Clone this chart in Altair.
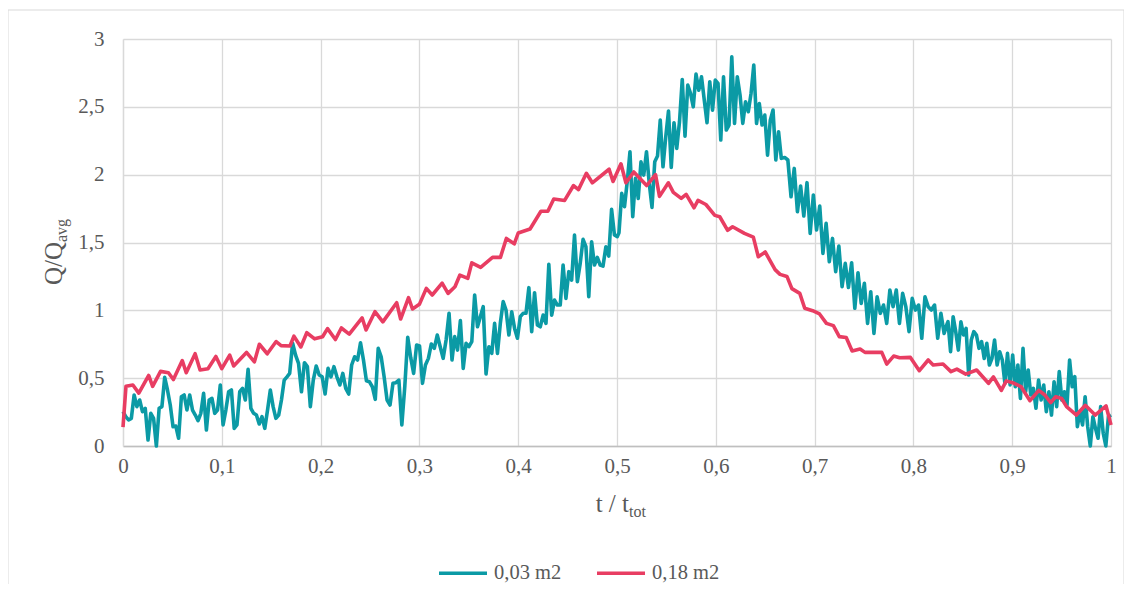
import altair as alt
import pandas as pd

# ---------------- data ----------------
series_names = ["0,03 m2", "0,18 m2"]
series_colors = ["#0B9AA5", "#E83D62"]

red_t = [0, 0.003, 0.01, 0.016, 0.026, 0.03, 0.038, 0.046, 0.051, 0.06,
         0.064, 0.073, 0.078, 0.086, 0.094, 0.1, 0.108, 0.112, 0.125, 0.133,
         0.138, 0.146, 0.155, 0.16, 0.169, 0.173, 0.18, 0.186, 0.194, 0.202,
         0.207, 0.215, 0.221, 0.229, 0.242, 0.246, 0.255, 0.263, 0.277, 0.281,
         0.289, 0.293, 0.30, 0.307, 0.313, 0.323, 0.329, 0.336, 0.341, 0.349,
         0.353, 0.362, 0.374, 0.382, 0.388, 0.396, 0.40, 0.412, 0.423, 0.43,
         0.436, 0.447, 0.456, 0.461, 0.469, 0.475, 0.492, 0.496, 0.504, 0.509,
         0.517, 0.53, 0.539, 0.543, 0.552, 0.557, 0.565, 0.57, 0.578, 0.582,
         0.59, 0.599, 0.604, 0.612, 0.617, 0.629, 0.638, 0.643, 0.65, 0.66,
         0.665, 0.672, 0.677, 0.685, 0.69, 0.698, 0.705, 0.712, 0.719, 0.725,
         0.732, 0.738, 0.746, 0.751, 0.768, 0.773, 0.78, 0.786, 0.797, 0.806,
         0.815, 0.82, 0.83, 0.838, 0.844, 0.853, 0.864, 0.876, 0.881, 0.889,
         0.894, 0.902, 0.909, 0.918, 0.927, 0.933, 0.939, 0.944, 0.95, 0.955,
         0.965, 0.974, 0.984, 0.995, 1.0]
red_v = [0.14, 0.44, 0.45, 0.39, 0.52, 0.44, 0.55, 0.54, 0.49, 0.63,
         0.54, 0.68, 0.56, 0.57, 0.66, 0.57, 0.67, 0.59, 0.69, 0.62,
         0.75, 0.68, 0.77, 0.74, 0.737, 0.81, 0.73, 0.835, 0.79, 0.805,
         0.865, 0.785, 0.87, 0.825, 0.945, 0.855, 0.99, 0.915, 1.056, 0.936,
         1.093, 1.01, 1.044, 1.162, 1.113, 1.2, 1.125, 1.174, 1.26, 1.236,
         1.35, 1.317, 1.39, 1.39, 1.53, 1.49, 1.57, 1.60, 1.73, 1.73,
         1.82, 1.81, 1.92, 1.89, 2.01, 1.94, 2.04, 1.95, 2.08, 1.94,
         2.02, 1.92, 2.0, 1.84, 1.94, 1.87, 1.825, 1.855, 1.756, 1.81,
         1.78, 1.70, 1.69, 1.59, 1.616, 1.567, 1.54, 1.395, 1.43, 1.30,
         1.265, 1.25, 1.16, 1.125, 1.015, 0.997, 0.973, 0.904, 0.887, 0.806,
         0.80, 0.70, 0.715, 0.69, 0.69, 0.604, 0.663, 0.65, 0.653, 0.555,
         0.634, 0.597, 0.604, 0.548, 0.567, 0.53, 0.56, 0.462, 0.51, 0.41,
         0.48, 0.462, 0.437, 0.334, 0.41, 0.376, 0.32, 0.363, 0.35, 0.29,
         0.228, 0.30, 0.228, 0.295, 0.155]

# teal series, read in six consecutive stretches of t (evenly sampled inside each)
teal_ranges = [(0.0, 0.166), (0.1687, 0.333), (0.3357, 0.5003),
               (0.502, 0.6663), (0.6697, 0.8343), (0.835, 1.0)]
teal_1 = [0.253, 0.216, 0.192, 0.204, 0.376, 0.29, 0.339, 0.253, 0.278, 0.044,
          0.241, 0.204, 0.0, 0.278, 0.29, 0.506, 0.413, 0.302, 0.142, 0.147,
          0.057, 0.363, 0.376, 0.265, 0.376, 0.265, 0.228, 0.187, 0.241, 0.388,
          0.118, 0.339, 0.351, 0.241, 0.265, 0.45, 0.155, 0.265, 0.40, 0.413,
          0.13, 0.155, 0.40, 0.425, 0.339, 0.565, 0.278, 0.241, 0.228, 0.162,
          0.216, 0.13, 0.265, 0.413, 0.29, 0.204, 0.228, 0.339, 0.486, 0.51]
teal_2 = [0.535, 0.757, 0.67, 0.609, 0.40, 0.614, 0.585, 0.29, 0.486, 0.59,
          0.523, 0.51, 0.383, 0.572, 0.51, 0.585, 0.51, 0.45, 0.535, 0.425,
          0.383, 0.597, 0.658, 0.634, 0.761, 0.634, 0.481, 0.474, 0.437, 0.344,
          0.72, 0.658, 0.51, 0.339, 0.302, 0.462, 0.467, 0.486, 0.155, 0.437,
          0.801, 0.653, 0.535, 0.744, 0.737, 0.462, 0.597, 0.646, 0.752, 0.72,
          0.818, 0.732, 0.646, 0.781, 0.978, 0.634]
teal_3 = [0.806, 0.707, 0.924, 0.572, 0.757, 0.732, 0.769, 1.113, 0.879, 0.953,
          1.027, 0.531, 0.732, 0.683, 0.904, 0.683, 0.904, 1.064, 1.002, 0.818,
          0.99, 0.867, 0.794, 0.953, 0.978, 0.978, 1.167, 0.843, 1.13, 0.892,
          0.879, 0.965, 0.904, 1.339, 0.965, 1.076, 1.039, 1.039, 1.334, 1.088,
          1.285, 1.223, 1.555, 1.211, 1.346, 1.523, 1.469, 1.100, 1.506, 1.334,
          1.39, 1.334, 1.326, 1.469, 1.40, 1.744, 1.555, 1.543]
teal_4 = [1.572, 1.862, 1.764, 1.948, 2.169, 1.690, 1.973, 1.825, 2.095, 1.997,
          2.169, 1.936, 1.759, 2.095, 2.137, 2.402, 2.058, 2.279, 2.469, 2.054,
          2.383, 2.194, 2.390, 2.702, 2.284, 2.660, 2.599, 2.500, 2.741, 2.623,
          2.721, 2.550, 2.383, 2.685, 2.476, 2.697, 2.673, 2.255, 2.721, 2.329,
          2.366, 2.869, 2.378, 2.721, 2.587, 2.378, 2.537, 2.464, 2.599, 2.808,
          2.378, 2.525, 2.366, 2.439, 2.144, 2.402, 2.476, 2.108, 2.316, 2.120]
teal_5 = [2.127, 2.108, 1.837, 2.046, 1.727, 1.916, 1.695, 1.941, 1.567, 1.850,
          1.592, 1.769, 1.420, 1.641, 1.358, 1.530, 1.285, 1.474, 1.174, 1.346,
          1.169, 1.351, 1.015, 1.277, 1.051, 1.199, 0.904, 1.137, 0.830, 1.100,
          0.978, 1.039, 0.904, 1.150, 1.027, 1.150, 0.904, 1.125, 1.027, 0.843,
          1.088, 1.002, 1.039, 0.794, 1.100, 1.027, 1.002, 1.039, 0.794, 0.978,
          0.830, 0.904]
teal_6 = [0.916, 0.695, 0.953, 0.843, 0.707, 0.916, 0.818, 0.867, 0.523, 0.781,
          0.843, 0.818, 0.72, 0.769, 0.646, 0.757, 0.597, 0.646, 0.781, 0.597,
          0.695, 0.634, 0.462, 0.683, 0.45, 0.671, 0.437, 0.597, 0.351, 0.72,
          0.40, 0.56, 0.376, 0.425, 0.278, 0.486, 0.339, 0.45, 0.253, 0.40,
          0.228, 0.474, 0.29, 0.548, 0.339, 0.40, 0.302, 0.634, 0.437, 0.511,
          0.142, 0.253, 0.155, 0.363, 0.142, 0.0, 0.216, 0.13, 0.057, 0.29,
          0.094, 0.0, 0.216, 0.228]

x_ticks = [0, 0.1, 0.2, 0.3, 0.4, 0.5, 0.6, 0.7, 0.8, 0.9, 1]
y_ticks = [0, 0.5, 1, 1.5, 2, 2.5, 3]

# ---------------- table ----------------
rows = []
for seg, (a, b) in zip([teal_1, teal_2, teal_3, teal_4, teal_5, teal_6], teal_ranges):
    n = len(seg)
    for i, v in enumerate(seg):
        rows.append({"t": a + (b - a) * i / (n - 1), "v": v, "s": series_names[0]})
for t, v in zip(red_t, red_v):
    rows.append({"t": t, "v": v, "s": series_names[1]})
df = pd.DataFrame(rows)

FONT = "Liberation Serif"
GREY = "#595959"
FS = 21
TFS = 25
SFS = 16
label_expr = "replace(format(datum.value, '~g'), '.', ',')"

W, H = 988, 407

lines = alt.Chart(df).mark_line(strokeWidth=3.6, strokeJoin="round").encode(
    x=alt.X("t:Q", scale=alt.Scale(domain=[0, 1], nice=False, zero=False),
            axis=alt.Axis(values=x_ticks, labelExpr=label_expr, title=None,
                          grid=True, gridColor="#d9d9d9", gridWidth=1.3,
                          domainColor="#bfbfbf", domainWidth=1.5, ticks=False,
                          labelFont=FONT, labelFontSize=FS, labelColor=GREY,
                          labelPadding=9, labelFlush=False)),
    y=alt.Y("v:Q", scale=alt.Scale(domain=[0, 3], nice=False),
            axis=alt.Axis(values=y_ticks, labelExpr=label_expr, title=None,
                          grid=True, gridColor="#d9d9d9", gridWidth=1.3,
                          domainColor="#d9d9d9", domainWidth=1.3, ticks=False,
                          labelFont=FONT, labelFontSize=FS, labelColor=GREY,
                          labelPadding=19, labelFlush=False)),
    color=alt.Color("s:N", scale=alt.Scale(domain=series_names, range=series_colors),
                    legend=alt.Legend(orient="none", legendX=314, legendY=508,
                                      direction="horizontal", title=None,
                                      symbolType="stroke", symbolSize=2304,
                                      symbolStrokeWidth=3.6, labelFont=FONT,
                                      labelFontSize=20.5, labelColor=GREY,
                                      labelOffset=5, columnPadding=27)),
)

one = pd.DataFrame({"a": [0]})

border = alt.Chart(one).mark_rect(fillOpacity=0, stroke="#d9d9d9", strokeWidth=1).encode(
    x=alt.value(-115), x2=alt.value(1001), y=alt.value(-29), y2=alt.value(560))

ytitle_main = alt.Chart(one).mark_text(text="Q/Q", angle=270, align="right",
                                       baseline="alphabetic", font=FONT, fontSize=TFS,
                                       color=GREY).encode(x=alt.value(-61), y=alt.value(203))
ytitle_sub = alt.Chart(one).mark_text(text="avg", angle=270, align="left",
                                      baseline="alphabetic", font=FONT, fontSize=SFS,
                                      color=GREY).encode(x=alt.value(-56), y=alt.value(203))
xtitle_main = alt.Chart(one).mark_text(text="t / t", align="right", baseline="alphabetic",
                                       font=FONT, fontSize=TFS, color=GREY).encode(
    x=alt.value(506), y=alt.value(473))
xtitle_sub = alt.Chart(one).mark_text(text="tot", align="left", baseline="alphabetic",
                                      font=FONT, fontSize=SFS, color=GREY).encode(
    x=alt.value(506), y=alt.value(478))

chart = alt.layer(border, lines, ytitle_main, ytitle_sub, xtitle_main, xtitle_sub).properties(
    width=W, height=H,
    padding={"left": 115, "top": 31, "right": 13, "bottom": 138},
    autosize=alt.AutoSizeParams(type="none"),
).configure_view(stroke=None)

chart.save("out.html", embed_options={"renderer": "svg", "actions": False})
